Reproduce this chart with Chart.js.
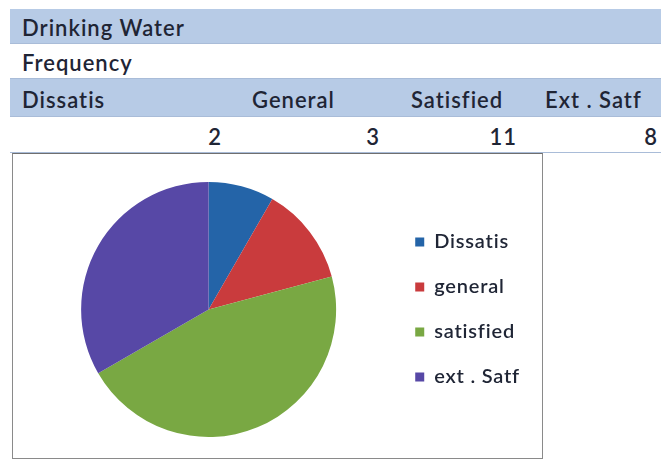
<!DOCTYPE html>
<html>
<head>
<meta charset="utf-8">
<script src="https://cdn.jsdelivr.net/npm/chart.js@4"></script>
<style>
  body { margin: 0; background: #fff; width: 661px; height: 460px; overflow: hidden; position: relative; font-family: Lato, sans-serif; color: #1f2535; }
  .row { position: absolute; left: 10px; width: 660px; box-sizing: border-box; border-bottom: 1px solid #a9bcd8; }
  .blue { background: #b7cbe6; }
  .cell { position: absolute; font-size: 22px; font-weight: 600; letter-spacing: 1px; white-space: nowrap; }
  #chartBox { position: absolute; left: 12px; top: 153px; width: 531px; height: 306px; box-sizing: border-box; border: 1.5px solid #8a8a8a; border-top-color: #6f6f6f; background: #fff; }
</style>
</head>
<body>
<div id="table"></div>
<div id="chartBox"><canvas id="myChart"></canvas></div>
<script>
// table contents
let title = 'Drinking Water';
let subTitle = 'Frequency';
let headers = ['Dissatis', 'General', 'Satisfied', 'Ext . Satf'];
let frequency = [2, 3, 11, 8];

// pie legend labels and colours
let pieLabels = ['Dissatis', 'general', 'satisfied', 'ext . Satf'];
let pieColors = ['#2464a8', '#c93b3d', '#79a843', '#5748a6'];

// row tops / heights and column anchors for the sheet
let rows = [[9, 35, true], [44, 35, false], [79, 38, true], [117, 36, false]];
let colLeft = [22, 252, 411, 545];
let numRight = [222, 380, 517, 658];

let table = document.getElementById('table');
let rowEls = rows.map(function (r) {
    let d = document.createElement('div');
    d.className = 'row' + (r[2] ? ' blue' : '');
    d.style.top = r[0] + 'px';
    d.style.height = r[1] + 'px';
    table.appendChild(d);
    return d;
});

function addCell(rowEl, rowH, text, x, alignRight) {
    let c = document.createElement('div');
    c.className = 'cell';
    c.textContent = text;
    c.style.top = '0px';
    c.style.lineHeight = (rowH + 3) + 'px';
    if (alignRight) {
        c.style.right = (660 - (x - 10)) + 'px';
    } else {
        c.style.left = (x - 10) + 'px';
    }
    rowEl.appendChild(c);
}

addCell(rowEls[0], rows[0][1], title, 22, false);
addCell(rowEls[1], rows[1][1], subTitle, 22, false);
for (let i = 0; i < headers.length; i++) {
    addCell(rowEls[2], rows[2][1], headers[i], colLeft[i], false);
    addCell(rowEls[3], rows[3][1], String(frequency[i]), numRight[i], true);
}

// widen the legend lettering a little, like the sheet text
let spacing = {
    id: 'spacing',
    beforeLayout: function (c) { c.ctx.letterSpacing = '0.8px'; },
    beforeDraw: function (c) { c.ctx.letterSpacing = '0.8px'; }
};

let ctx = document.getElementById('myChart').getContext('2d');
ctx.canvas.width = 528;
ctx.canvas.height = 303;
let chart = new Chart(ctx, {
    type: 'pie',
    data: {
        labels: pieLabels,
        datasets: [{
            data: frequency,
            backgroundColor: pieColors,
            borderWidth: 0
        }]
    },
    options: {
        responsive: false,
        animation: false,
        layout: {
            padding: { top: 28, bottom: 20, left: 14, right: 11 }
        },
        plugins: {
            tooltip: { enabled: false },
            legend: {
                position: 'right',
                labels: {
                    boxWidth: 9,
                    boxHeight: 9,
                    padding: 25,
                    color: '#1f2535',
                    font: { family: 'Lato', size: 20, weight: '600' }
                }
            }
        }
    },
    plugins: [spacing]
});
</script>
</body>
</html>
